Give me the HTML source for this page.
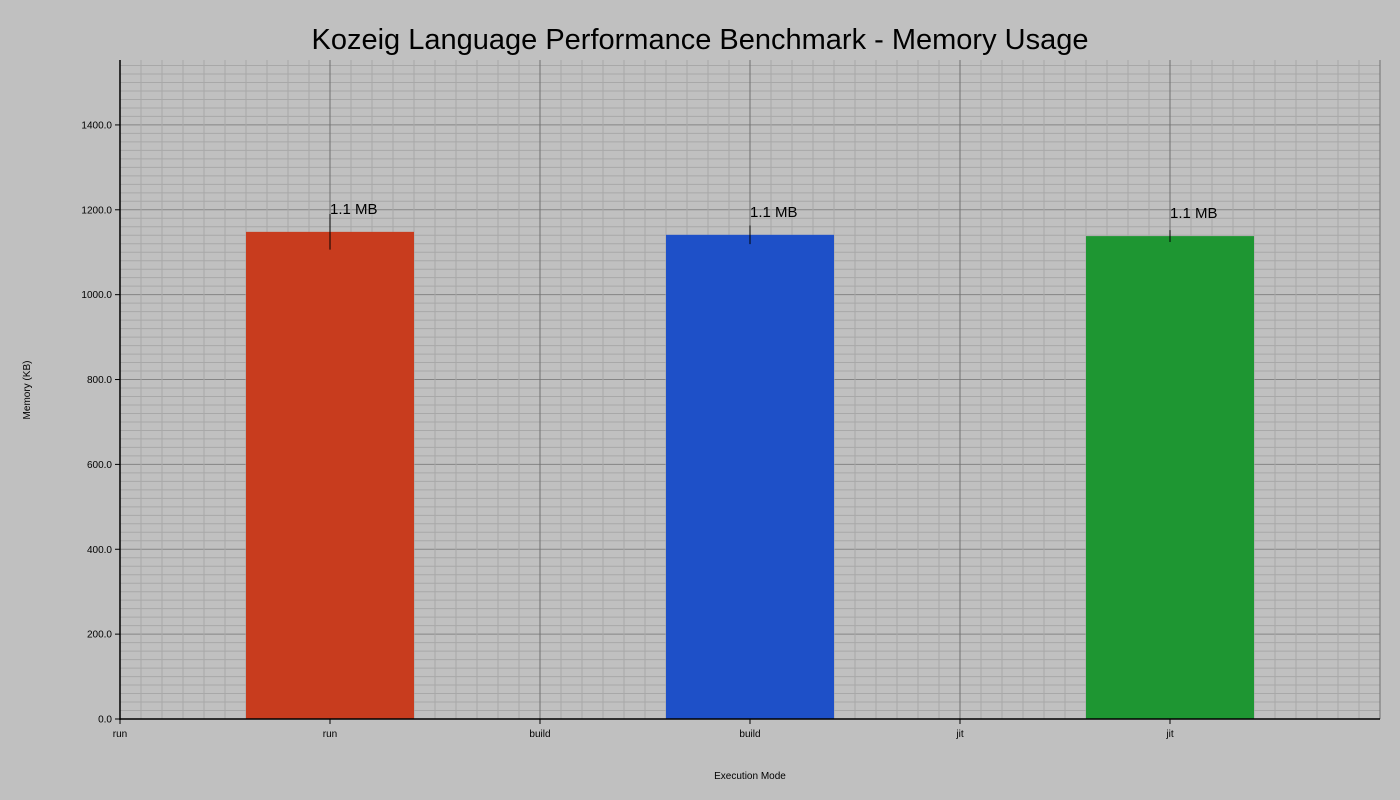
<!DOCTYPE html>
<html><head><meta charset="utf-8"><style>
body{margin:0;background:#c0c0c0;font-family:"Liberation Sans",sans-serif}
svg{display:block}
</style></head><body>
<svg id="chart" width="1400" height="800">
<rect width="1400" height="800" fill="#c0c0c0"/>
<text x="700" y="49" font-size="29" text-anchor="middle">Kozeig Language Performance Benchmark - Memory Usage</text>
<g id="grid"></g><g id="bars"></g><g id="axes"></g>
<text x="750" y="779" font-size="10" text-anchor="middle">Execution Mode</text>
<text transform="translate(30,390) rotate(-90)" font-size="10" text-anchor="middle">Memory (KB)</text>
</svg>
<script>
const categories=["run","build","jit"];
const values=[1148,1141,1138];
const errors=[42,22,14];
const labels=["1.1 MB","1.1 MB","1.1 MB"];
const colors=["#c83c1e","#1e50c8","#1e9632"];
const tickLabels=["run","run","build","build","jit","jit"];
const yTicks=[0,200,400,600,800,1000,1200,1400];
const yMax=1553;
const L=120,R=1380,T=60,B=719;
const ns="http://www.w3.org/2000/svg";
const y=v=>B-(v/yMax)*(B-T);
const xt=i=>L+i*(R-L)/6;
const xc=i=>xt(2*i+1);
function mk(tag,attrs,parent,text){const e=document.createElementNS(ns,tag);for(const k in attrs)e.setAttribute(k,attrs[k]);if(text!=null)e.textContent=text;document.getElementById(parent).appendChild(e);return e;}
for(let v=0;v<=yMax;v+=20){const l=mk('line',{x1:L,x2:R,y1:y(v),y2:y(v),stroke:v%200===0?'#858585':'#a8a8a8','stroke-width':1},'grid');

}
for(let i=0;i<=60;i++){const x=L+i*(R-L)/60;const l=mk('line',{x1:x,x2:x,y1:T,y2:B,stroke:i%10===0?'#707070':'#a8a8a8','stroke-width':1},'grid');

}
categories.forEach((c,i)=>{const w=168;
const r=mk('rect',{x:xc(i)-w/2,y:y(values[i]),width:w,height:B-y(values[i]),fill:colors[i]},'bars');


const e=mk('line',{x1:xc(i),x2:xc(i),y1:y(values[i]+errors[i]),y2:y(values[i]-errors[i]),stroke:'#000','stroke-width':1},'bars');


const t=mk('text',{x:xc(i),y:y(values[i])-18,'font-size':15},'bars',labels[i]);

});
const ya=mk('line',{x1:L,x2:L,y1:T,y2:B+1,stroke:'#000','stroke-width':1.5},'axes');


const xa=mk('line',{x1:L,x2:R,y1:B,y2:B,stroke:'#000','stroke-width':1.5},'axes');


yTicks.forEach(v=>{mk('line',{x1:L-5,x2:L,y1:y(v),y2:y(v),stroke:'#000'},'axes');
const t=mk('text',{x:L-8,y:y(v)+3.5,'font-size':10,'text-anchor':'end'},'axes',v.toFixed(1));

});
tickLabels.forEach((s,i)=>{mk('line',{x1:xt(i),x2:xt(i),y1:B,y2:B+5,stroke:'#000'},'axes');
const t=mk('text',{x:xt(i),y:B+18,'font-size':10,'text-anchor':'middle'},'axes',s);

});
</script>
</body></html>
